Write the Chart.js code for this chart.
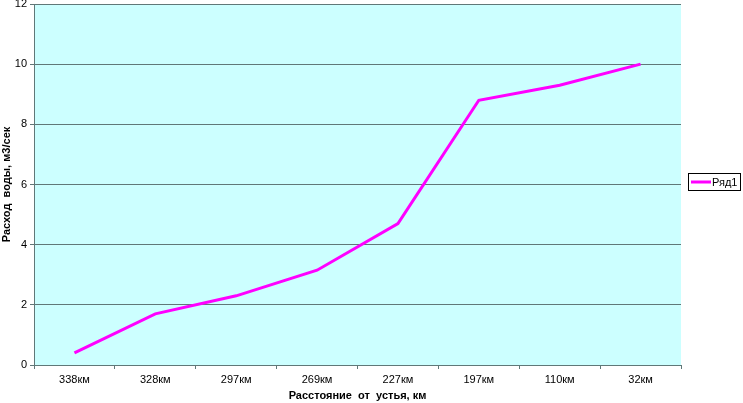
<!DOCTYPE html>
<html>
<head>
<meta charset="utf-8">
<script src="https://cdn.jsdelivr.net/npm/chart.js@4"></script>
<style>
  html, body { margin: 0; padding: 0; background: #fff; }
  #chart { display: block; }
</style>
</head>
<body>
<canvas id="chart" width="743" height="403"></canvas>
<script>
// Chart data
const categories = ['338км', '328км', '297км', '269км', '227км', '197км', '110км', '32км'];
const flowValues = [0.4, 1.7, 2.3, 3.15, 4.7, 8.8, 9.3, 10.0];
const yTicks = [0, 2, 4, 6, 8, 10, 12];
const seriesName = 'Ряд1';
const xTitle = 'Расстояние  от  устья, км';
const yTitle = 'Расход  воды, м3/сек';

const FONT = 'Arial, "Liberation Sans", sans-serif';

// Cyan plot background
const plotBackground = {
    id: 'plotBackground',
    beforeDraw(chart) {
        const { ctx, chartArea } = chart;
        ctx.save();
        ctx.fillStyle = '#CCFFFF';
        ctx.fillRect(chartArea.left, chartArea.top, chartArea.right - chartArea.left, chartArea.bottom - chartArea.top);
        ctx.restore();
    }
};

// Boxed legend on the right
const boxLegend = {
    id: 'boxLegend',
    afterDraw(chart) {
        const ctx = chart.ctx;
        const ds = chart.data.datasets[0];
        ctx.save();
        ctx.fillStyle = '#ffffff';
        ctx.fillRect(688, 173, 53, 18);
        ctx.strokeStyle = '#000000';
        ctx.lineWidth = 1;
        ctx.strokeRect(688.5, 173.5, 52, 17);
        ctx.strokeStyle = ds.borderColor;
        ctx.lineWidth = 3;
        ctx.beginPath();
        ctx.moveTo(691, 182);
        ctx.lineTo(711, 182);
        ctx.stroke();
        ctx.fillStyle = '#000000';
        ctx.font = '11px ' + FONT;
        ctx.textBaseline = 'middle';
        ctx.fillText(ds.label, 712, 182.5);
        ctx.restore();
    }
};

new Chart(document.getElementById('chart').getContext('2d'), {
    type: 'line',
    data: {
        labels: categories,
        datasets: [{
            label: seriesName,
            data: flowValues,
            borderColor: '#FF00FF',
            backgroundColor: '#FF00FF',
            borderWidth: 3,
            pointRadius: 0,
            tension: 0,
            fill: false
        }]
    },
    options: {
        responsive: false,
        animation: false,
        layout: {
            padding: { top: 4, right: 62, left: 0, bottom: 0 }
        },
        scales: {
            x: {
                offset: true,
                grid: {
                    offset: true,
                    drawOnChartArea: false,
                    drawTicks: true,
                    tickLength: 4,
                    color: '#607878'
                },
                border: { display: true, color: '#607878', width: 1 },
                ticks: {
                    color: '#000000',
                    font: { family: FONT, size: 11 },
                    padding: 4,
                    maxRotation: 0
                },
                title: {
                    display: true,
                    text: xTitle,
                    color: '#000000',
                    font: { family: FONT, size: 11, weight: 'bold' },
                    padding: { top: 4, bottom: 0 }
                },
                afterFit(scale) { scale.height = 38; }
            },
            y: {
                min: 0,
                max: 12,
                afterBuildTicks(scale) {
                    scale.ticks = yTicks.map(v => ({ value: v }));
                },
                grid: {
                    color: '#607878',
                    tickLength: 4,
                    lineWidth: 1
                },
                border: { display: true, color: '#607878', width: 1 },
                ticks: {
                    color: '#000000',
                    font: { family: FONT, size: 11 },
                    padding: 3
                },
                title: {
                    display: true,
                    text: yTitle,
                    color: '#000000',
                    font: { family: FONT, size: 11, weight: 'bold' },
                    padding: { top: 0, bottom: 0 }
                },
                afterFit(scale) {
                    scale.width = 34;
                    scale.paddingTop = 0;
                    scale.paddingBottom = 0;
                }
            }
        },
        plugins: {
            legend: { display: false },
            tooltip: { enabled: false }
        }
    },
    plugins: [plotBackground, boxLegend]
});
</script>
</body>
</html>
